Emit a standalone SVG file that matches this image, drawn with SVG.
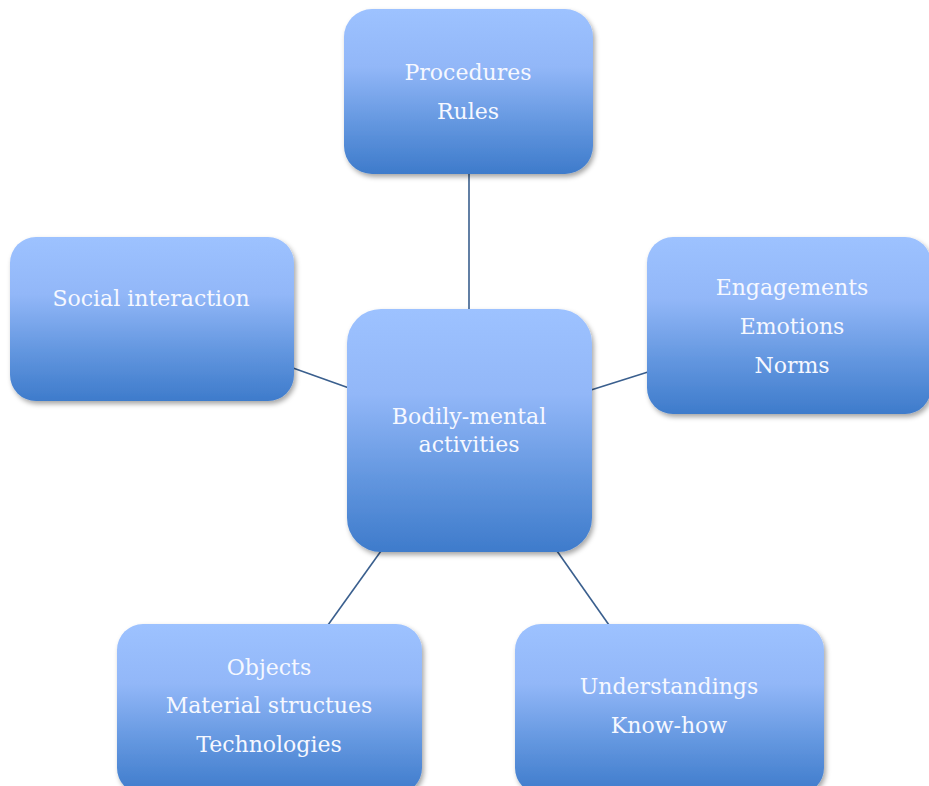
<svg xmlns="http://www.w3.org/2000/svg" width="929" height="786" viewBox="0 0 929 786">
<defs>
<linearGradient id="g" x1="0" y1="0" x2="0" y2="1">
<stop offset="0" stop-color="#9DC2FF"/>
<stop offset="0.35" stop-color="#92B7F8"/>
<stop offset="0.7" stop-color="#6296DF"/>
<stop offset="1" stop-color="#3E7BCB"/>
</linearGradient>
<filter id="sh" x="-10%" y="-10%" width="125%" height="125%">
<feDropShadow dx="2" dy="3" stdDeviation="2.5" flood-color="#000" flood-opacity="0.35"/>
</filter>
</defs>
<style>
.box{fill:url(#g);filter:url(#sh)}
.t{font-family:"DejaVu Serif","Liberation Serif",serif;font-size:22px;fill:#F6F8FF;text-anchor:middle}
.c{stroke:#3A5F8E;stroke-width:1.6;fill:none}
</style>
<rect width="929" height="786" fill="#fff"/>
<g id="connectors">
<line class="c" x1="469" y1="174" x2="469" y2="310"/>
<line class="c" x1="293" y1="368" x2="349" y2="388"/>
<line class="c" x1="591" y1="390" x2="648" y2="372"/>
<line class="c" x1="381" y1="551" x2="328" y2="625"/>
<line class="c" x1="557" y1="551" x2="609" y2="625"/>
</g>
<g id="procedures">
<rect class="box" x="344" y="9" width="249" height="165" rx="28"/>
<text class="t" x="468" y="80">Procedures</text>
<text class="t" x="468" y="119">Rules</text>
</g>
<g id="social">
<rect class="box" x="10" y="237" width="284" height="164" rx="26"/>
<text class="t" x="151" y="306">Social interaction</text>
</g>
<g id="engagements">
<rect class="box" x="647" y="237" width="284" height="177" rx="26"/>
<text class="t" x="792" y="295">Engagements</text>
<text class="t" x="792" y="334">Emotions</text>
<text class="t" x="792" y="373">Norms</text>
</g>
<g id="center">
<rect class="box" x="347" y="309" width="245" height="243" rx="34"/>
<text class="t" x="469" y="424">Bodily-mental</text>
<text class="t" x="469" y="452">activities</text>
</g>
<g id="objects">
<rect class="box" x="117" y="624" width="305" height="170" rx="26"/>
<text class="t" x="269" y="675">Objects</text>
<text class="t" x="269" y="713">Material structues</text>
<text class="t" x="269" y="752">Technologies</text>
</g>
<g id="understandings">
<rect class="box" x="515" y="624" width="309" height="170" rx="26"/>
<text class="t" x="669" y="694">Understandings</text>
<text class="t" x="669" y="733">Know-how</text>
</g>
</svg>
